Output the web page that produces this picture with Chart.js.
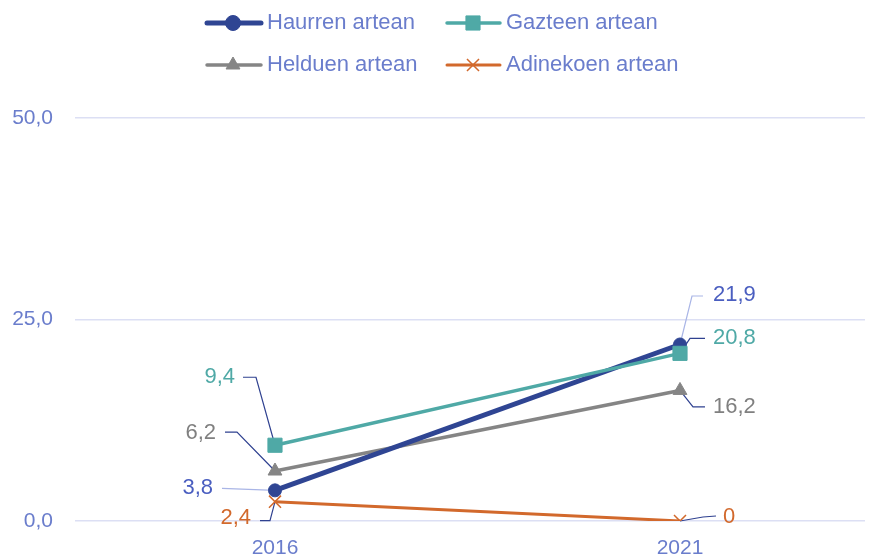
<!DOCTYPE html>
<html><head><meta charset="utf-8">
<script src="https://cdn.jsdelivr.net/npm/chart.js@4.4.1/dist/chart.umd.min.js"></script>
<style>html,body{margin:0;padding:0;background:#fff}#wrap{width:869px;height:557px;position:relative}</style>
</head><body><div id="wrap"><canvas id="c" width="869" height="557"></canvas></div>
<script>
// ---- data ----
const categories = ['2016', '2021'];
const seriesNames = ['Haurren artean', 'Gazteen artean', 'Helduen artean', 'Adinekoen artean'];
const haurren = [3.8, 21.9];
const gazteen = [9.4, 20.8];
const helduen = [6.2, 16.2];
const adinekoen = [2.4, 0];
const yTickValues = [0, 25, 50];

// ---- styles ----
const FONT = '"Liberation Sans", Arial, Helvetica, sans-serif';
const TEXT_BLUE = '#6a7dcc';
const lineColors = ['#2f4593', '#4fa9a6', '#858585', '#d2692c'];
const labelColors = ['#4a5ec0', '#4fa9a6', '#808080', '#d2692c'];
const leaderColors = ['#a9b5e6', '#2f4190', '#2f4190', '#2f4190'];
const pointStyles = ['circle', 'rect', 'triangle', 'crossRot'];
const pointRadii = [6.5, 10, 8, 8.5];
const legendRadii = [7.5, 10, 8, 8.5];
const lineWidths = [5, 3.5, 3.5, 3];
const drawOrder = [2, 1, 3, 4];
const allValues = [haurren, gazteen, helduen, adinekoen];

// label layout offsets relative to point: [textX, textY, startX, startY, elbowX, elbowY]
const labelLayout = [
  [[-62, -2, -53, -2, -53, -2], [33, -49.5, 23, -48.5, 12, -48.5]],
  [[-40, -68, -32, -68, -19, -68], [33, -15, 25, -15, 10, -15]],
  [[-59, -38, -50, -39, -38, -39], [33, 16.5, 25, 16.5, 13, 16.5]],
  [[-24, 16, -15, 19, -5, 19], [43, -4, 36, -5, 23, -4]]
];

const fmt = v => v === 0 ? '0' : v.toFixed(1).replace('.', ',');

const datasets = seriesNames.map((name, i) => ({
  label: name,
  data: categories.map((c, j) => ({ x: Number(c), y: allValues[i][j] })),
  borderColor: lineColors[i],
  backgroundColor: lineColors[i],
  borderWidth: lineWidths[i],
  pointStyle: pointStyles[i],
  pointRadius: pointRadii[i],
  pointHoverRadius: pointRadii[i],
  pointBorderWidth: pointStyles[i] === 'crossRot' ? 1.5 : 1,
  pointBorderColor: lineColors[i],
  pointBackgroundColor: lineColors[i],
  tension: 0,
  order: drawOrder[i]
}));

const labelPlugin = {
  id: 'leaderLabels',
  beforeDatasetsDraw(chart) {
    const ctx = chart.ctx;
    ctx.save();
    chart.data.datasets.forEach((ds, i) => {
      const meta = chart.getDatasetMeta(i);
      meta.data.forEach((pt, j) => {
        const L = labelLayout[i][j];
        ctx.strokeStyle = leaderColors[i];
        ctx.lineWidth = 1.2;
        ctx.beginPath();
        ctx.moveTo(pt.x + L[2], pt.y + L[3]);
        ctx.lineTo(pt.x + L[4], pt.y + L[5]);
        ctx.lineTo(pt.x, pt.y);
        ctx.stroke();
      });
    });
    ctx.restore();
  },
  afterDatasetsDraw(chart) {
    const ctx = chart.ctx;
    ctx.save();
    ctx.font = '22px ' + FONT;
    ctx.textBaseline = 'middle';
    chart.data.datasets.forEach((ds, i) => {
      const meta = chart.getDatasetMeta(i);
      meta.data.forEach((pt, j) => {
        const L = labelLayout[i][j];
        ctx.fillStyle = labelColors[i];
        ctx.textAlign = L[0] < 0 ? 'right' : 'left';
        ctx.fillText(fmt(allValues[i][j]), pt.x + L[0], pt.y + L[1]);
      });
    });
    ctx.restore();
  },
  afterDraw(chart) {
    // legend
    const ctx = chart.ctx;
    const cols = [[207, 261, 233, 267], [447, 500, 473, 506]];
    const rows = [23, 65];
    ctx.save();
    seriesNames.forEach((name, i) => {
      const c = cols[i % 2], y = rows[Math.floor(i / 2)];
      ctx.strokeStyle = lineColors[i];
      ctx.lineWidth = lineWidths[i];
      ctx.lineCap = 'round';
      ctx.beginPath();
      ctx.moveTo(c[0], y);
      ctx.lineTo(c[1], y);
      ctx.stroke();
      ctx.lineCap = 'butt';
      ctx.fillStyle = lineColors[i];
      ctx.lineWidth = pointStyles[i] === 'crossRot' ? 1.5 : 1;
      Chart.helpers.drawPoint(ctx, { pointStyle: pointStyles[i], radius: legendRadii[i], rotation: 0, borderWidth: 1 }, c[2], y);
      ctx.fillStyle = TEXT_BLUE;
      ctx.font = '22px ' + FONT;
      ctx.textAlign = 'left';
      ctx.textBaseline = 'middle';
      ctx.fillText(name, c[3], y);
    });
    ctx.restore();
  }
};

new Chart(document.getElementById('c'), {
  type: 'line',
  data: { datasets },
  plugins: [labelPlugin],
  options: {
    responsive: false,
    animation: false,
    devicePixelRatio: 1,
    layout: { autoPadding: false, padding: { top: 118, right: 4, left: 0, bottom: 0 } },
    plugins: { legend: { display: false }, tooltip: { enabled: false } },
    scales: {
      x: {
        type: 'linear',
        min: 2013.531,
        max: 2023.284,
        afterBuildTicks: s => { s.ticks = categories.map(c => ({ value: Number(c) })); },
        afterFit: s => { s.height = 36; s.paddingLeft = 0; s.paddingRight = 0; },
        grid: { display: false, drawTicks: false },
        border: { display: false },
        ticks: { color: TEXT_BLUE, font: { family: FONT, size: 21 }, padding: 15, callback: v => String(v), autoSkip: false, maxRotation: 0 }
      },
      y: {
        min: 0, max: 50,
        afterBuildTicks: s => { s.ticks = yTickValues.map(v => ({ value: v })); },
        afterFit: s => { s.width = 75; s.paddingTop = 0; s.paddingBottom = 0; },
        grid: { color: '#dcdff4', lineWidth: 1.5, drawTicks: false },
        border: { display: false },
        ticks: { color: TEXT_BLUE, font: { family: FONT, size: 21 }, padding: 22, callback: v => v.toFixed(1).replace('.', ',') }
      }
    }
  }
});
</script>
</body></html>
